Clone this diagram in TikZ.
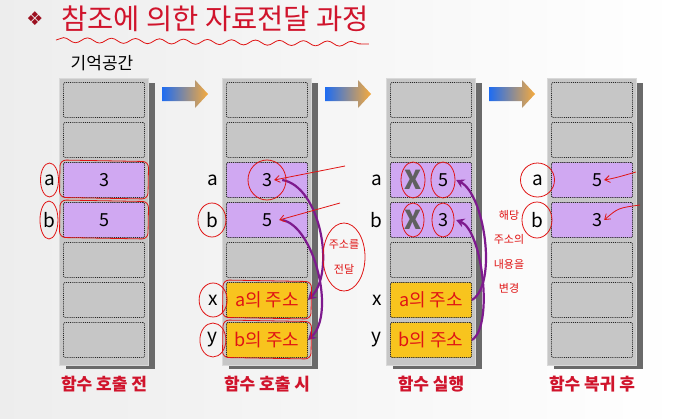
\documentclass[tikz,border=0pt]{standalone}
\usepackage{fontspec}
\setmainfont{Noto Sans CJK KR}
\newfontfamily\symfont{DejaVu Sans}
\usetikzlibrary{arrows.meta,positioning}
\usetikzlibrary{calc,decorations.pathmorphing}

\definecolor{titlered}{HTML}{D0142C}
\definecolor{bulletred}{HTML}{9C1020}
\definecolor{boxgray}{HTML}{C6C6C6}
\definecolor{shadowgray}{HTML}{6A6A6A}
\definecolor{cellpurple}{HTML}{D0A8F2}
\definecolor{cellyellow}{HTML}{F8C41E}
\definecolor{arrowpurple}{HTML}{7E1A8E}
\definecolor{arrowblue}{HTML}{1E6CF2}
\definecolor{arroworange}{HTML}{F6AA3C}
\definecolor{penred}{HTML}{E01414}

\begin{document}
\begin{tikzpicture}[x=1pt,y=-1pt,
      cell/.style={
         draw=black!85,
         densely dotted,
         line width=0.9pt,
         fill=boxgray,
         rounded corners=1.5pt,
         minimum width=81pt,
         minimum height=35pt,
         inner sep=0pt},
      val/.style={cell,fill=cellpurple,font=\fontsize{18}{18}\selectfont},
      addr/.style={cell,fill=cellyellow,text=penred,font=\fontsize{18}{18}\selectfont},
      num/.style={inner sep=2pt,font=\fontsize{18}{18}\selectfont},
      crossed/.style={inner sep=0pt,text=gray!75!black,font=\fontsize{26}{26}\selectfont\bfseries},
      lbl/.style={inner sep=1pt,font=\fontsize{19}{19}\selectfont},
      stagelabel/.style={text=titlered,font=\fontsize{17}{17}\selectfont\bfseries},
      hand/.style={text=penred,align=center,inner sep=0pt},
      pen/.style={penred,line width=0.8pt},
      penarrow/.style={pen,-{Straight Barb[length=5pt,width=7pt]}},
      parrow/.style={-{Stealth[length=8pt,width=9pt]},arrowpurple,line width=2.2pt},
      node distance=7pt
      ]
      \shade[left color=black!7,right color=white] (0,0) rectangle (680,418);

      % title
      \node[text=bulletred,font=\symfont\fontsize{19}{19}\selectfont] (bullet) at (35,19) {❖};
      \node[anchor=west,text=titlered,font=\fontsize{28.5}{28.5}\selectfont,inner sep=0pt] (title) at (61,19) {참조에 의한 자료전달 과정};
      \draw[pen,decorate,decoration={snake,amplitude=2.5pt,segment length=24pt}]
         (56,40) -- (title.south east |- 0,44);
      \node[font=\fontsize{17}{17}\selectfont] (mem) at (102,63) {기억공간};

      % memory columns
      \foreach \c/\x in {1/104,2/267,3/431,4/592}{
         \fill[shadowgray] (\x-38,83) rectangle (\x+51,369);
         \filldraw[fill=boxgray,draw=white!85!black] (\x-45,78) rectangle (\x+44,365);
         \foreach \r in {1,...,7}
            \node[cell] (c\c-\r) at (\x,60+40*\r) {};
      }

      % stage arrows
      \foreach \x in {104,267,431}
         \shade[left color=arrowblue,right color=arroworange]
            (\x+58,87) -- (\x+91,87) -- (\x+91,80) -- (\x+104,94) -- (\x+91,108) -- (\x+91,101) -- (\x+58,101) -- cycle;

      % contents
      \node[val] (a1) at (c1-3) {3};
      \node[val] (b1) at (c1-4) {5};

      \node[val] (a2) at (c2-3) {};
      \node[num] (n2a) at (a2) {3};
      \node[val] (b2) at (c2-4) {};
      \node[num] (n2b) at (b2) {5};
      \node[addr] (x2) at (c2-6) {a의 주소};
      \node[addr] (y2) at (c2-7) {b의 주소};

      \node[val] (a3) at (c3-3) {};
      \node[crossed,xshift=-18pt] (k3a) at (a3) {X};
      \node[num,xshift=12pt] (n3a) at (a3) {5};
      \node[val] (b3) at (c3-4) {};
      \node[crossed,xshift=-18pt] (k3b) at (b3) {X};
      \node[num,xshift=12pt] (n3b) at (b3) {3};
      \node[addr] (x3) at (c3-6) {a의 주소};
      \node[addr] (y3) at (c3-7) {b의 주소};

      \node[val] (a4) at (c4-3) {};
      \node[num,xshift=5pt] (n4a) at (a4) {5};
      \node[val] (b4) at (c4-4) {};
      \node[num,xshift=5pt] (n4b) at (b4) {3};

    \foreach \c/\r/\t in {% column/row/label
      1/3/a, 1/4/b,
      2/3/a, 2/4/b, 2/6/x, 2/7/y,
      3/3/a, 3/4/b, 3/6/x, 3/7/y,
      4/3/a, 4/4/b}
       \node[lbl,left=of c\c-\r] (l\c-\r) {\t};

    \foreach \c/\txt in {1/함수 호출 전,2/함수 호출 시,3/함수 실행,4/함수 복귀 후}
       \node[stagelabel,below=15pt of c\c-7] (s\c) {\txt};

      % passing the addresses
      \draw[parrow] ([xshift=8pt]n2a.east) .. controls +(38,6) and +(28,-28) .. (x2.east);
      \draw[parrow] ([xshift=8pt]n2b.east) .. controls +(32,6) and +(28,-26) .. (y2.east);
      \draw[parrow] (x3.east) .. controls +(26,-16) and +(28,14) .. ([xshift=6pt]n3a.east);
      \draw[parrow] (y3.east) .. controls +(22,-14) and +(26,10) .. ([xshift=6pt]n3b.east);

      \node[hand,font=\fontsize{11}{25}\selectfont] (note1) at (344,257) {주소를\\전달};
      \node[hand,font=\fontsize{11}{24.5}\selectfont] (note2) at (509,252) {해당\\주소의\\내용을\\변경};

      % pen marks
      \foreach \n/\rx/\ry in {l1-3/9/17, l1-4/9/19, l2-4/14/17, l2-6/14/17, l2-7/13/17,
                              n2a/19/20, k3a/12/18, n3a/12/18, k3b/11/17, n3b/11/17,
                              l4-3/17/17, l4-4/15/18, note1/21/34}
         \draw[pen] (\n) ellipse ({\rx pt} and {\ry pt});
      \foreach \n in {a1,b1,x2,y2}
         \draw[pen,rounded corners=6pt,rotate around={-1:(\n)}] ([shift={(-3,-2)}]\n.north west) rectangle ([shift={(3,1)}]\n.south east);
      \draw[penarrow] (345,166) -- (n2a.east |- a2);
      \draw[penarrow] (340,203) -- ([xshift=5pt]n2b.east);
      \draw[penarrow] (636,172) .. controls (615,178) .. (n4a.east);
      \draw[penarrow] (640,205) .. controls (618,208) .. (n4b.east);
\end{tikzpicture}
\end{document}
